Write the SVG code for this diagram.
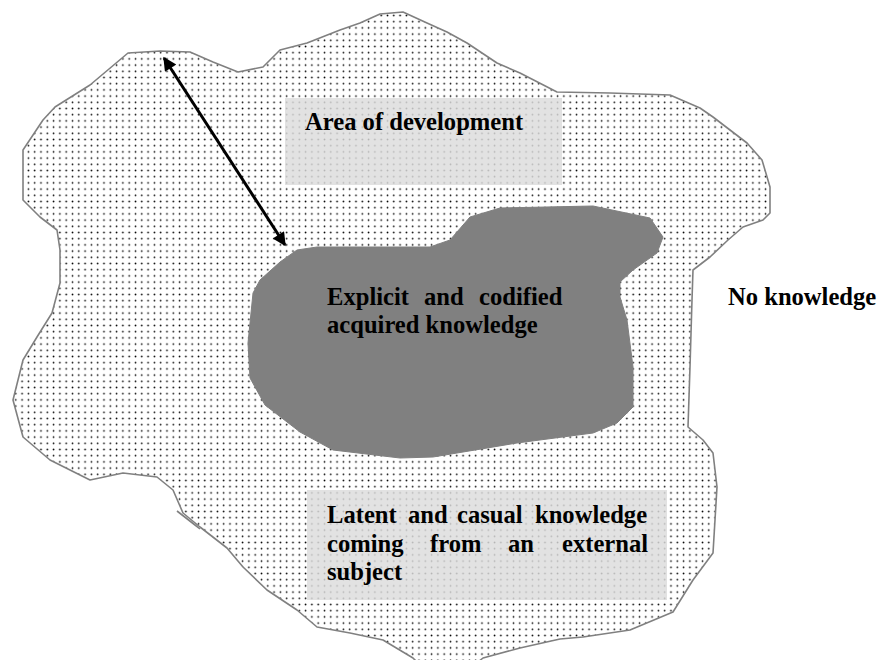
<svg xmlns="http://www.w3.org/2000/svg" width="879" height="660" viewBox="0 0 879 660">
<style>
.lbl{font-family:"Liberation Serif","Times New Roman",serif;font-weight:bold;font-size:24.6px;fill:#000}
.box{fill:#dcdcdc;fill-opacity:0.82}
</style>
<defs>
<pattern id="dots" patternUnits="userSpaceOnUse" width="6.3" height="6.2">
<circle cx="3.2" cy="3.1" r="0.85" fill="#000"/>
</pattern>
<marker id="ah" viewBox="0 0 10 10" refX="9" refY="5" markerWidth="5.5" markerHeight="4.5" orient="auto-start-reverse" markerUnits="strokeWidth">
<path d="M0,0 L10,5 L0,10 z" fill="#000"/>
</marker>
</defs>
<rect width="879" height="660" fill="#fff"/>
<g id="outer">
<path d="M128,53 L160,51 L190,52 L213,62 L238,72 L263,67 L280,50 L307,43 L340,30 L360,23 L380,14 L403,12 L427,23 L447,32 L467,43 L497,63 L520,73 L557,92 L610,93 L670,95 L700,108 L713,117 L747,143 L762,160 L770,187 L770,213 L763,220 L743,227 L728,240 L710,257 L693,270 L692,300 L690,367 L688,427 L703,440 L713,453 L717,487 L715,520 L713,553 L693,580 L673,612 L630,630 L583,637 L560,639 L520,648 L483,658 L478,662 L417,662 L413,658 L383,640 L350,633 L317,627 L297,610 L267,590 L243,567 L227,548 L200,527 L183,513 L173,490 L157,477 L123,473 L90,480 L50,460 L23,437 L13,400 L23,360 L37,337 L52,313 L60,283 L60,250 L57,230 L40,217 L23,200 L23,150 L43,120 L55,107 L90,85 Z" fill="url(#dots)" stroke="#808080" stroke-width="1.6" stroke-linejoin="round"/>
<path d="M177,511 L195,525 L200,529" fill="none" stroke="#808080" stroke-width="1.6"/>
</g>
<g id="area-of-development">
<rect class="box" x="285" y="98" width="277" height="87"/>
<text class="lbl" x="305" y="130">Area of development</text>
</g>
<g id="explicit">
<path d="M297,250 L317,247 L430,247 L450,240 L470,217 L500,208 L593,206 L650,218 L663,237 L657,253 L633,270 L620,282 L620,297 L627,320 L633,367 L633,407 L617,423 L593,433 L517,443 L433,457 L400,458 L333,450 L300,432 L265,405 L250,378 L248,343 L253,293 L260,280 L280,262 Z" fill="#808080" stroke="#808080" stroke-width="1" stroke-linejoin="round"/>
<text class="lbl" y="305"><tspan x="327">Explicit</tspan><tspan x="424">and</tspan><tspan x="479">codified</tspan></text>
<text class="lbl" x="327" y="333">acquired knowledge</text>
</g>
<g id="latent">
<rect class="box" x="307" y="490" width="360" height="110"/>
<text class="lbl" y="523"><tspan x="327">Latent</tspan><tspan x="408">and</tspan><tspan x="457">casual</tspan><tspan x="535">knowledge</tspan></text>
<text class="lbl" y="552"><tspan x="327">coming</tspan><tspan x="430">from</tspan><tspan x="508">an</tspan><tspan x="562">external</tspan></text>
<text class="lbl" x="327" y="580">subject</text>
</g>
<g id="no-knowledge">
<text class="lbl" x="728" y="305">No knowledge</text>
</g>
<g id="connectors">
<line x1="164" y1="58" x2="285" y2="245" stroke="#000" stroke-width="3" marker-start="url(#ah)" marker-end="url(#ah)"/>
</g>
</svg>
